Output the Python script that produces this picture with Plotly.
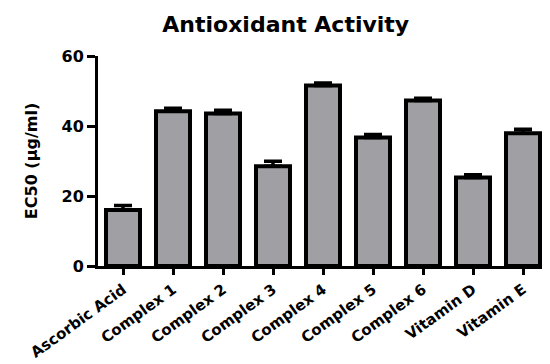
import plotly.graph_objects as go

categories = ["Ascorbic Acid", "Complex 1", "Complex 2", "Complex 3", "Complex 4",
              "Complex 5", "Complex 6", "Vitamin D", "Vitamin E"]
ec50 = [16.0, 44.2, 43.6, 28.5, 51.6, 36.7, 47.3, 25.3, 37.9]
err = [1.3, 0.9, 0.9, 1.4, 0.7, 0.9, 0.6, 0.8, 1.2]
y_ticks = [0, 20, 40, 60]

fig = go.Figure()
fig.add_trace(go.Bar(
    x=categories, y=ec50,
    marker=dict(color="#a0a0a4", line=dict(color="black", width=4)),
    width=0.68,
    error_y=dict(type="data", array=err, arrayminus=[0] * len(err), symmetric=False,
                 color="black", thickness=3.5, width=9),
))

font_family = "DejaVu Sans, Liberation Sans, Arial, sans-serif"
fig.update_layout(
    width=550, height=364,
    margin=dict(l=90, r=7, t=48, b=106, autoexpand=False),
    paper_bgcolor="white", plot_bgcolor="white",
    showlegend=False,
    title=dict(text="Antioxidant Activity", x=0.505, xanchor="center", y=0.955, yanchor="middle",
               font=dict(family=font_family, size=22, color="black", weight="bold")),
    xaxis=dict(
        range=[-0.5, 8.56], showline=True, linecolor="black", linewidth=3,
        ticks="outside", ticklen=6, tickwidth=2.5, tickcolor="black",
        tickangle=-36, showgrid=False, zeroline=False, automargin=False,
        tickfont=dict(family=font_family, size=15, color="black", weight="bold"),
    ),
    yaxis=dict(
        range=[0, 60], tickvals=y_ticks, showline=True, linecolor="black", linewidth=3,
        ticks="outside", ticklen=8, tickwidth=2.5, tickcolor="black",
        showgrid=False, zeroline=False, automargin=False,
        tickfont=dict(family=font_family, size=16, color="black", weight="bold"),
        title=dict(text="EC50 (µg/ml)", standoff=20,
                   font=dict(family=font_family, size=16, color="black", weight="bold")),
    ),
)

fig.write_html("out.html")
